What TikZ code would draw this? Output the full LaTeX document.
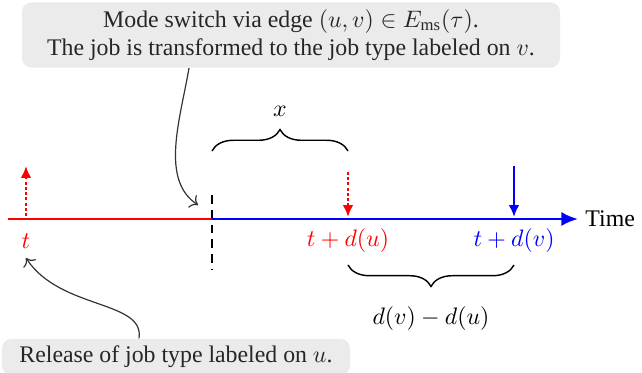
\documentclass[tikz,border=0pt]{standalone}
\usepackage{fontspec}
\setmainfont{Liberation Serif}
\usetikzlibrary{arrows.meta,decorations.pathreplacing}
\begin{document}
\begin{tikzpicture}[x=0.42pt,y=-0.42pt,
  callout/.style={fill=black!8,rounded corners=4pt,text=black!85,align=center,inner sep=3pt,font=\fontsize{10}{11.8}\selectfont},
  timeline/.style={line width=1.2pt},
  evarrow/.style={line width=1.2pt,-{Latex[length=5pt,width=4.5pt]}},
  pointer/.style={black!80,line width=0.5pt,-{To[length=3pt]}},
  bracestyle/.style={decorate,decoration={brace,amplitude=9pt},line width=0.6pt},
  lbl/.style={font=\fontsize{10}{12}\selectfont}]
\useasboundingbox (0,0) rectangle (642,373);
% nodes
\node[callout,minimum width=538*0.42pt,minimum height=64*0.42pt] (top) at (291,35)
  {Mode switch via edge $(u,v)\in E_{\mathrm{ms}}(\tau)$.\\The job is transformed to the job type labeled on $v$.};
\node[callout,minimum width=348*0.42pt,minimum height=32*0.42pt] (bot) at (176,357)
  {Release of job type labeled on $u$.};
\coordinate (start) at (8,219);
\coordinate (sw) at (212,219);
\coordinate (end) at (578,219);
\coordinate (du) at (348,219);
\coordinate (dv) at (514,219);
\coordinate (rel) at (26,219);
\node[lbl,anchor=west,inner sep=0pt] (time) at (585,219) {Time};
\node[lbl,text=red] (tl) at (26,241) {$t$};
\node[lbl,text=red] (tdu) at (348,241) {$t+d(u)$};
\node[lbl,text=blue] (tdv) at (514,241) {$t+d(v)$};
% timeline
\draw[timeline,red] (start) -- (sw);
\draw[timeline,blue,-{Latex[length=7pt,width=6pt]}] (sw) -- (end);
\coordinate (dashtop) at (212,195);
\coordinate (dashbot) at (212,270);
\draw[line width=1.2pt,dash pattern=on 3.6pt off 2.6pt] (dashtop) -- (dashbot);
% event arrows
\coordinate (relup) at (26,166);
\draw[evarrow,red,densely dotted] (26,216) -- (relup);
\coordinate (dutop) at (348,172);
\draw[evarrow,red,densely dotted] (dutop) -- (348,217);
\coordinate (dvtop) at (514,166);
\draw[evarrow,blue] (dvtop) -- (514,217);
% braces
\draw[bracestyle] (212,151) -- node[lbl,above=11pt] (xl) {$x$} (348,151);
\draw[bracestyle] (514,265) -- node[lbl,below=14pt] (dd) {$d(v)-d(u)$} (348,265);
% pointers
\coordinate (swp) at (198,205);
\draw[pointer] (top.south -| 189,0) .. controls (180,120) and (160,180) .. (swp);
\coordinate (relp) at (26,258);
\draw[pointer] (bot.north -| 139,0) .. controls (145,300) and (60,310) .. (relp);
\end{tikzpicture}
\end{document}
